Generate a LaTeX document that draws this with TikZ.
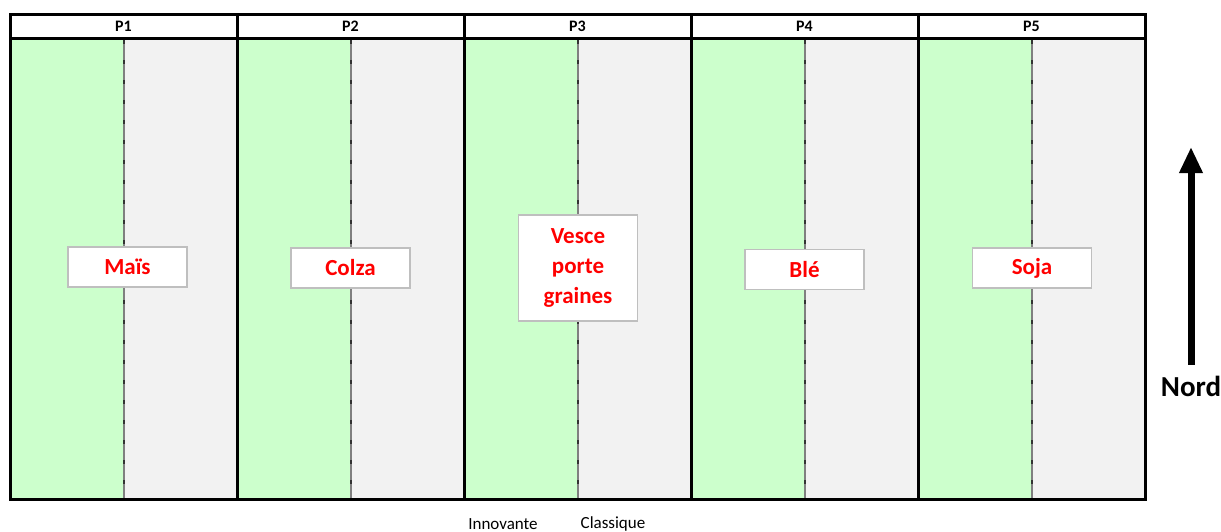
\documentclass[tikz,border=0pt]{standalone}
\usepackage{fontspec}
\setmainfont{Carlito}
\usepackage{xcolor}
\usepackage{tikz}
\usetikzlibrary{calc, positioning, arrows.meta}

\definecolor{vert}{HTML}{CCFFCC}
\definecolor{gris}{HTML}{F2F2F2}
\tikzset{
    culture/.style={draw=gray!50, fill=white, line width=0.6pt, text=red,
        font=\fontsize{11.5}{15}\selectfont\bfseries, align=center,
        minimum width=59.5pt, minimum height=20pt, inner sep=2pt},
    entete/.style={font=\fontsize{8}{9}\selectfont\bfseries},
    modalite/.style={font=\fontsize{8.5}{10}\selectfont},
}

\begin{document}
\begin{tikzpicture}[x=0.5pt, y=-0.5pt]
    \useasboundingbox (0,0) rectangle (1221,531);
    % parcelles : moitie innovante (verte) et moitie classique (grise)
    \foreach \i in {0,...,4} {
        \fill[vert] ({10+227*\i},38) rectangle ({124+227*\i},499);
        \fill[gris] ({124+227*\i},38) rectangle ({237+227*\i},499);
        \draw[gray, line width=0.8pt] ({124+227*\i},38) -- ({124+227*\i},499);
        \draw[black!80, line width=0.8pt, dash pattern=on 2pt off 8pt]
            ({124+227*\i},40) -- ({124+227*\i},499);
        \node[entete] (p\i) at ({123.5+227*\i},26.5) {P\the\numexpr\i+1\relax};
    }
    % cadre
    \draw[line width=1.5pt] (10,14) rectangle (1145,499);
    \draw[line width=1.5pt] (10,38) -- (1145,38);
    \foreach \i in {1,...,4}
        \draw[line width=1.5pt] ({10+227*\i},14) -- ({10+227*\i},499);
    % cultures
    \node[culture] (mais) at (127.5,267) {Maïs};
    \node[culture] (colza) at (350.5,268) {Colza};
    \node[culture, minimum height=53pt] (vesce) at (578,268) {Vesce\\porte\\graines};
    \node[culture] (ble) at (804.5,269.5) {Blé};
    \node[culture] (soja) at (1032,268) {Soja};
    % legende
    \node[modalite] (innov) at (503,524) {Innovante};
    \node[modalite] (classi) at (613,524) {Classique};
    % nord
    \node[font=\fontsize{14.5}{16}\selectfont\bfseries] (nord) at (1191,386) {Nord};
    \coordinate (fleche) at (1191,147);
    \draw[-{Triangle[length=13pt, width=11pt]}, line width=3.5pt] ($(nord.north)+(0,-4)$) -- (fleche);
\end{tikzpicture}
\end{document}
